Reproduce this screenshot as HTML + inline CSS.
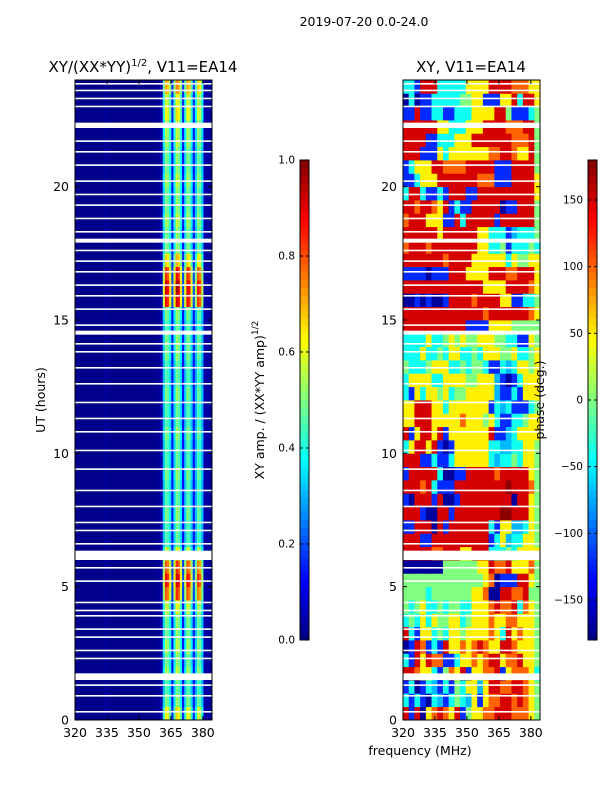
<!DOCTYPE html>
<html><head><meta charset="utf-8">
<style>
body{margin:0;background:#fff;}
svg text{font-family:"DejaVu Sans","Liberation Sans",sans-serif;fill:#000;}
</style></head>
<body>
<svg id="fig" width="600" height="800" xmlns="http://www.w3.org/2000/svg">
<rect width="600" height="800" fill="#fff"/>
<text x="364" y="26" font-size="12.5" text-anchor="middle">2019-07-20 0.0-24.0</text>
<text x="143" y="72" font-size="15" text-anchor="middle">XY/(XX*YY)<tspan font-size="10" dy="-6">1/2</tspan><tspan dy="6">, V11=EA14</tspan></text>
<text x="471" y="72" font-size="15" text-anchor="middle">XY, V11=EA14</text>
<text x="420" y="755" font-size="12.5" text-anchor="middle">frequency (MHz)</text>
<text transform="translate(45,400) rotate(-90)" font-size="12.5" text-anchor="middle">UT (hours)</text>
<text transform="translate(264,400) rotate(-90)" font-size="12.5" text-anchor="middle">XY amp. / (XX*YY amp)<tspan font-size="9" dy="-6">1/2</tspan></text>
<g id="left"></g>
<g id="right"></g>
<g id="axes"></g>
<text transform="translate(544,400) rotate(-90)" font-size="12.5" text-anchor="middle">phase (deg.)</text>
</svg>
<script>
// ---- data ----
const yTicks=[0,5,10,15,20];
const xTicks=[320,335,350,365,380];
const ampTicks=[0.0,0.2,0.4,0.6,0.8,1.0];
const phaseTicks=[-150,-100,-50,0,50,100,150];
const freqBins=64; // 320..384 MHz, 1 MHz each
const ampColProfile=[0.01,0.01,0.01,0.01,0.01,0.01,0.01,0.01,0.01,0.01,0.01,0.01,0.01,0.01,0.04,0.01,0.01,0.01,0.01,0.01,0.01,0.01,0.01,0.01,0.01,0.01,0.01,0.01,0.01,0.01,0.01,0.01,0.01,0.01,0.01,0.01,0.01,0.01,0.02,0.03,0.05,
 0.5,0.8,0.75,0.55,0.12,0.55,0.85,0.8,0.55,0.12,0.5,0.8,0.75,0.5,0.12,0.45,0.75,0.7,0.45,0.05,0.03,0.03,0.03];
const ampRowGain=[0.65,0.5,0.45,0.55,0.5,0.55,0.5,0.5,0.6,0.85,0.95,0.85,0.6,
 0.45,0.45,0.5,0.45,0.45,0.5,0.45,0.45,0.5,0.45,0.45,
 0.5,0.45,0.45,0.5,0.5,0.45,0.5,
 0.95,1.0,0.9,0.7,
 0.5,0.5,0.55,0.5,0.5,0.55,0.5,0.5,0.55,
 0.55,0.65,0.6,0.75];
const phaseCodes={n:-170,b:-120,l:-70,c:-40,g:0,y:50,o:100,r:150,d:175};
const phaseRows=[
"rbrnyoroyrbgyyoorrroooyg","cbcbnclbcgclybyoorroroyg","bcnbclbcbgcyylyrroorroyg","rroyycbgoyrbyyoorbyoooyc",
"cbryroobbcyyoyorryooryyg","nbrobcbryyoyoroyyrroyyyg","rcbyycgcyygyyyyoycryoyyg","cgcycyggyycgyyyoyyooyyyg",
"gcgyccgcggccyyyoroorcoyg","ggggcgggggggyyonnrroorgg","ggggggggggggggyonbbbrryg","nnnnnnnggggggyyrooryyyog",
"rrrrroorrryyrrrcccgcyyyy","rrrbbrrrrrrrrrrbcylccyyg","bbrrrnrbrrrrrrrcbyyllcyg","rrrbnnrrbrrrrrrrrddrrryg",
"bnrrrbrnnbrrrrrrrrrnrryg","rrrorcbbbrrrrrrrrrdrrrog","brrrrrcnnbbrrrrrorrrrryg","rrrbbcbbcyyyyyyclccgcyyg",
"cyrryrbnbyyyyyyccllccyyg","rbyrryrbyyyyyyyrbblcyyyy","yyrrryyyyyoyyygycbbccgyy","yyrrryycyyyyyyybclcbbbcg",
"cbycyygycggyyyyylbbcbyyy","cyyyyccyyyyggyyylbnbcyyy","gcccgyyyccgcggcbbclcyygy","cccyccgcyyccgcyyyggyccgy",
"ccccyccgygyggyyyggccbbyg","rrrrrrrrrrrbbbbyyyyggggg","rrrrrrrrrrrrrrorrrrrrroy","nnbnbnnbrrrrorrrryybbccg",
"rrrrrrrrrrrrrryyyyrrrroy","bbbbnbbbrrryyyyrrroorrry","rrrrrrrorrrryyyyyycyggyy","orrrorrrrrrrryyccgbcccgc",
"rrrrrryrrrrrryycccblcccg","orrryyybbrcrrrrrbrrrrrrg","rrorroyrbcbbrrrrrnbbrrrg","crrcbbcbrrrbbrrrrrrrrrry",
"bbcyyyrrrrrrrooobbbrrrry","bcyyyrroooorrrrrbbbrrrrg","rrrbbbycyyyyyyyoorroyyrg","rrrrbbcccyyyrrrrrrrooorg",
"rrrrrryycccyyyrrrrooorrg","bbrbbccbbcccyyyyrrgbbbcg","ncnbbcccccggyybbbyyrcrry","ccbrrrcccccyyyyrrrroooyy"];
const gapStart=[1.5,6.0,14.45,22.2,17.9];
const gapLen=[0.25,0.35,0.15,0.2,0.15];
const thinGaps=[0.3,0.9,1.3,2.3,2.6,3.1,3.4,3.9,4.1,4.4,5.2,5.7,6.6,7.1,7.4,8.0,8.6,9.4,10.1,10.8,11.3,11.9,12.6,13.2,13.8,14.1,14.8,15.4,15.9,16.3,16.8,17.2,17.6,18.3,18.8,19.3,19.7,20.2,20.8,21.3,21.7,23.0,23.3,23.6,23.85];
// ---- layout ----
const NS="http://www.w3.org/2000/svg";
const plotTop=80,plotBot=720;
const panels=[{x0:75,x1:212},{x0:403,x1:540}];
const fmin=320,fmax=384.3;
function yOf(h){return plotBot-(h/24)*(plotBot-plotTop);}
function xOf(p,f){return p.x0+(f-fmin)/(fmax-fmin)*(p.x1-p.x0);}
function jet(v){v=Math.max(0,Math.min(1,v));const c=t=>Math.round(255*Math.max(0,Math.min(1,1.5-Math.abs(4*v-t))));return `rgb(${c(3)},${c(2)},${c(1)})`;}
function mk(tag,attrs,parent){const e=document.createElementNS(NS,tag);for(const k in attrs)e.setAttribute(k,attrs[k]);parent.appendChild(e);return e;}
const Lg=document.getElementById('left'),Rg=document.getElementById('right'),Ag=document.getElementById('axes');
const rowH=24/ampRowGain.length;
ampRowGain.forEach((g,ri)=>{
  const y0=yOf((ri+1)*rowH),y1=yOf(ri*rowH);
  ampColProfile.forEach((p,ci)=>{
    const v=p<0.1?p:Math.min(1,0.08+g*p*1.05);
    const f0=fmin+ci*(fmax-fmin)/freqBins,f1=fmin+(ci+1)*(fmax-fmin)/freqBins;
    const r=mk('rect',{x:xOf(panels[0],f0),y:y0,width:xOf(panels[0],f1)-xOf(panels[0],f0)+0.4,height:y1-y0+0.4,fill:jet(v)},Lg);
    
    
  });
});
const pRowH=24/phaseRows.length;
phaseRows.forEach((row,ri)=>{
  const y0=yOf((ri+1)*pRowH),y1=yOf(ri*pRowH);
  const n=row.length;
  for(let ci=0;ci<n;ci++){
    const v=phaseCodes[row[ci]];
    const f0=fmin+ci*(fmax-fmin)/n,f1=fmin+(ci+1)*(fmax-fmin)/n;
    const r=mk('rect',{x:xOf(panels[1],f0),y:y0,width:xOf(panels[1],f1)-xOf(panels[1],f0)+0.4,height:y1-y0+0.4,fill:jet((v+180)/360)},Rg);
    
    
  }
});
panels.forEach(p=>{
  gapStart.forEach((s,i)=>{
    const r=mk('rect',{x:p.x0,y:yOf(s+gapLen[i]),width:p.x1-p.x0,height:yOf(s)-yOf(s+gapLen[i]),fill:'#fff'},Ag);
    
    
  });
  thinGaps.forEach(h=>{
    const r=mk('rect',{x:p.x0,y:yOf(h)-1,width:p.x1-p.x0,height:1.6,fill:'#fff'},Ag);
    
    
  });
  const fr=mk('rect',{x:p.x0,y:plotTop,width:p.x1-p.x0,height:plotBot-plotTop,fill:'none',stroke:'#000','stroke-width':1},Ag);
  
  
  yTicks.forEach(t=>{
    const y=yOf(t);
    mk('line',{x1:p.x0,x2:p.x0+4,y1:y,y2:y,stroke:'#000'},Ag);
    mk('line',{x1:p.x1,x2:p.x1-4,y1:y,y2:y,stroke:'#000'},Ag);
    const tx=mk('text',{x:p.x0-6,y:y+4.5,'font-size':12.5,'text-anchor':'end'},Ag);tx.textContent=t;
    
    
  });
  xTicks.forEach(t=>{
    const x=xOf(p,t);
    mk('line',{x1:x,x2:x,y1:plotBot,y2:plotBot-4,stroke:'#000'},Ag);
    mk('line',{x1:x,x2:x,y1:plotTop,y2:plotTop+4,stroke:'#000'},Ag);
    const tx=mk('text',{x:x,y:plotBot+17,'font-size':12.5,'text-anchor':'middle'},Ag);tx.textContent=t;
    
    
  });
});
function cbar(x,ticks,vmin,vmax,name){
  const g=mk('g',{},Ag);
  
  
  const N=64;
  for(let i=0;i<N;i++){
    const y0=640-(i+1)*480/N;
    mk('rect',{x:x,y:y0,width:9,height:480/N+0.5,fill:jet((i+0.5)/N)},g);
  }
  mk('rect',{x:x,y:160,width:9,height:480,fill:'none',stroke:'#000'},g);
  ticks.forEach(t=>{
    const y=640-(t-vmin)/(vmax-vmin)*480;
    mk('line',{x1:x,x2:x+3,y1:y,y2:y,stroke:'#000'},g);
    mk('line',{x1:x+9,x2:x+6,y1:y,y2:y,stroke:'#000'},g);
    const tx=mk('text',{x:x-5,y:y+3.5,'font-size':10.5,'text-anchor':'end'},g);tx.textContent=(vmax<=1?t.toFixed(1):(t<0?'\u2212'+(-t):t));
    
    
  });
}
cbar(300,ampTicks,0,1,'amp-colorbar');
cbar(588,phaseTicks,-180,180,'phase-colorbar');
</script>
</body></html>
